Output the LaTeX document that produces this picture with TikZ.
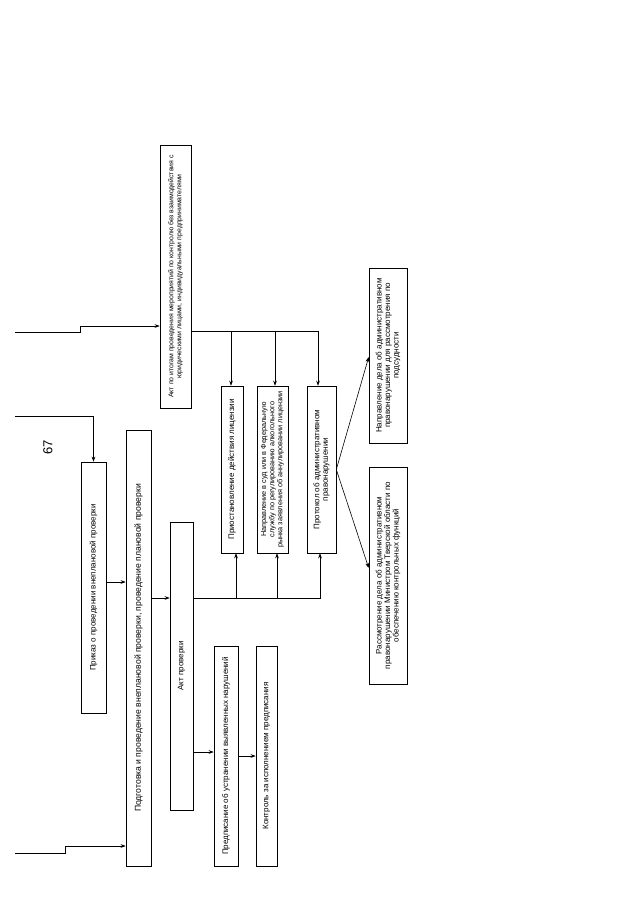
\documentclass[tikz,border=0pt]{standalone}
\usepackage{fontspec}
\setmainfont{Liberation Sans}
\usetikzlibrary{arrows.meta}
\tikzstyle{box} = [rectangle, rotate=90, draw=black, align=center, inner sep=1pt,
font=\fontsize{8}{8.6}\selectfont]
\tikzstyle{arrow} = [-{Stealth[length=5pt,width=3.6pt]}]

\begin{document}
\begin{tikzpicture}[x=1pt, y=-1pt, line width=0.6pt]
\useasboundingbox (0,0) rectangle (640,905);
\node (page) at (48,447) [rotate=90, font=\fontsize{13}{13}\selectfont]{67};
\node (1)[box, minimum width=263pt, minimum height=31pt, font=\fontsize{6.9}{8}\selectfont] at (175.5,276.5){Акт по итогам проведения мероприятий по контролю без взаимодействия с\\юридическими лицами, индивидуальными предпринимателями};
\node (2)[box, minimum width=251pt, minimum height=25pt] at (93.5,587.5){Приказ о проведении внеплановой проверки};
\node (3)[box, minimum width=436pt, minimum height=25pt, font=\fontsize{8.6}{9}\selectfont] at (138.5,648){Подготовка и проведение внеплановой проверки, проведение плановой проверки};
\node (4)[box, minimum width=288pt, minimum height=23pt] at (181.5,666){Акт проверки};
\node (5)[box, minimum width=167pt, minimum height=22pt] at (232,469.5){Приостановление действия лицензии};
\node (6)[box, minimum width=167pt, minimum height=31pt, font=\fontsize{7.3}{8.2}\selectfont] at (272.5,469.5){Направление в суд или в Федеральную\\службу по регулированию алкогольного\\рынка заявления об аннулировании лицензии};
\node (7)[box, minimum width=167pt, minimum height=29pt] at (321.5,469.5){Протокол об административном\\правонарушении};
\node (8)[box, minimum width=175pt, minimum height=38pt] at (388,355.5){Направление дела об административном\\правонарушении для рассмотрения по\\подсудности};
\node (9)[box, minimum width=217pt, minimum height=38pt] at (388,575.5){Рассмотрение дела об административном\\правонарушении Министром Тверской области по\\обеспечению контрольных функций};
\node (10)[box, minimum width=220pt, minimum height=24pt] at (226,756){Предписание об устранении выявленных нарушений};
\node (11)[box, minimum width=220pt, minimum height=21pt] at (266.5,756){Контроль за исполнением предписания};

% входящие линии слева
\coordinate (in1) at (15,332);
\coordinate (in2) at (15,416);
\coordinate (in3) at (15,853);
\draw [arrow](in1) -- (80,332) -- (80,326) -- (1.north |- 0,326);
\draw [arrow](in2) -| (2.east);
\draw [arrow](in3) -- (65,853) -- (65,846) -- (3.north |- 0,846);

\draw [arrow](2.south |- 0,582) -- (3.north |- 0,582);
\draw [arrow](3.south |- 0,598) -- (4.north |- 0,598);

\draw [arrow](1.south |- 0,331) -| (5.east -| 231,0);
\draw [arrow](1.south |- 0,331) -| (6.east -| 275,0);
\draw [arrow](1.south |- 0,331) -| (7.east -| 318,0);

\draw [arrow](4.south |- 0,598) -| (5.west -| 236,0);
\draw [arrow](4.south |- 0,598) -| (6.west -| 277,0);
\draw [arrow](4.south |- 0,598) -| (7.west -| 320,0);

\draw [arrow](7.south) -- (8.north |- 0,357);
\draw [arrow](7.south) -- (9.north |- 0,568);

\draw [arrow](4.south |- 0,752) -- (10.north |- 0,752);
\draw [arrow](10.south) -- (11.north);
\end{tikzpicture}
\end{document}
